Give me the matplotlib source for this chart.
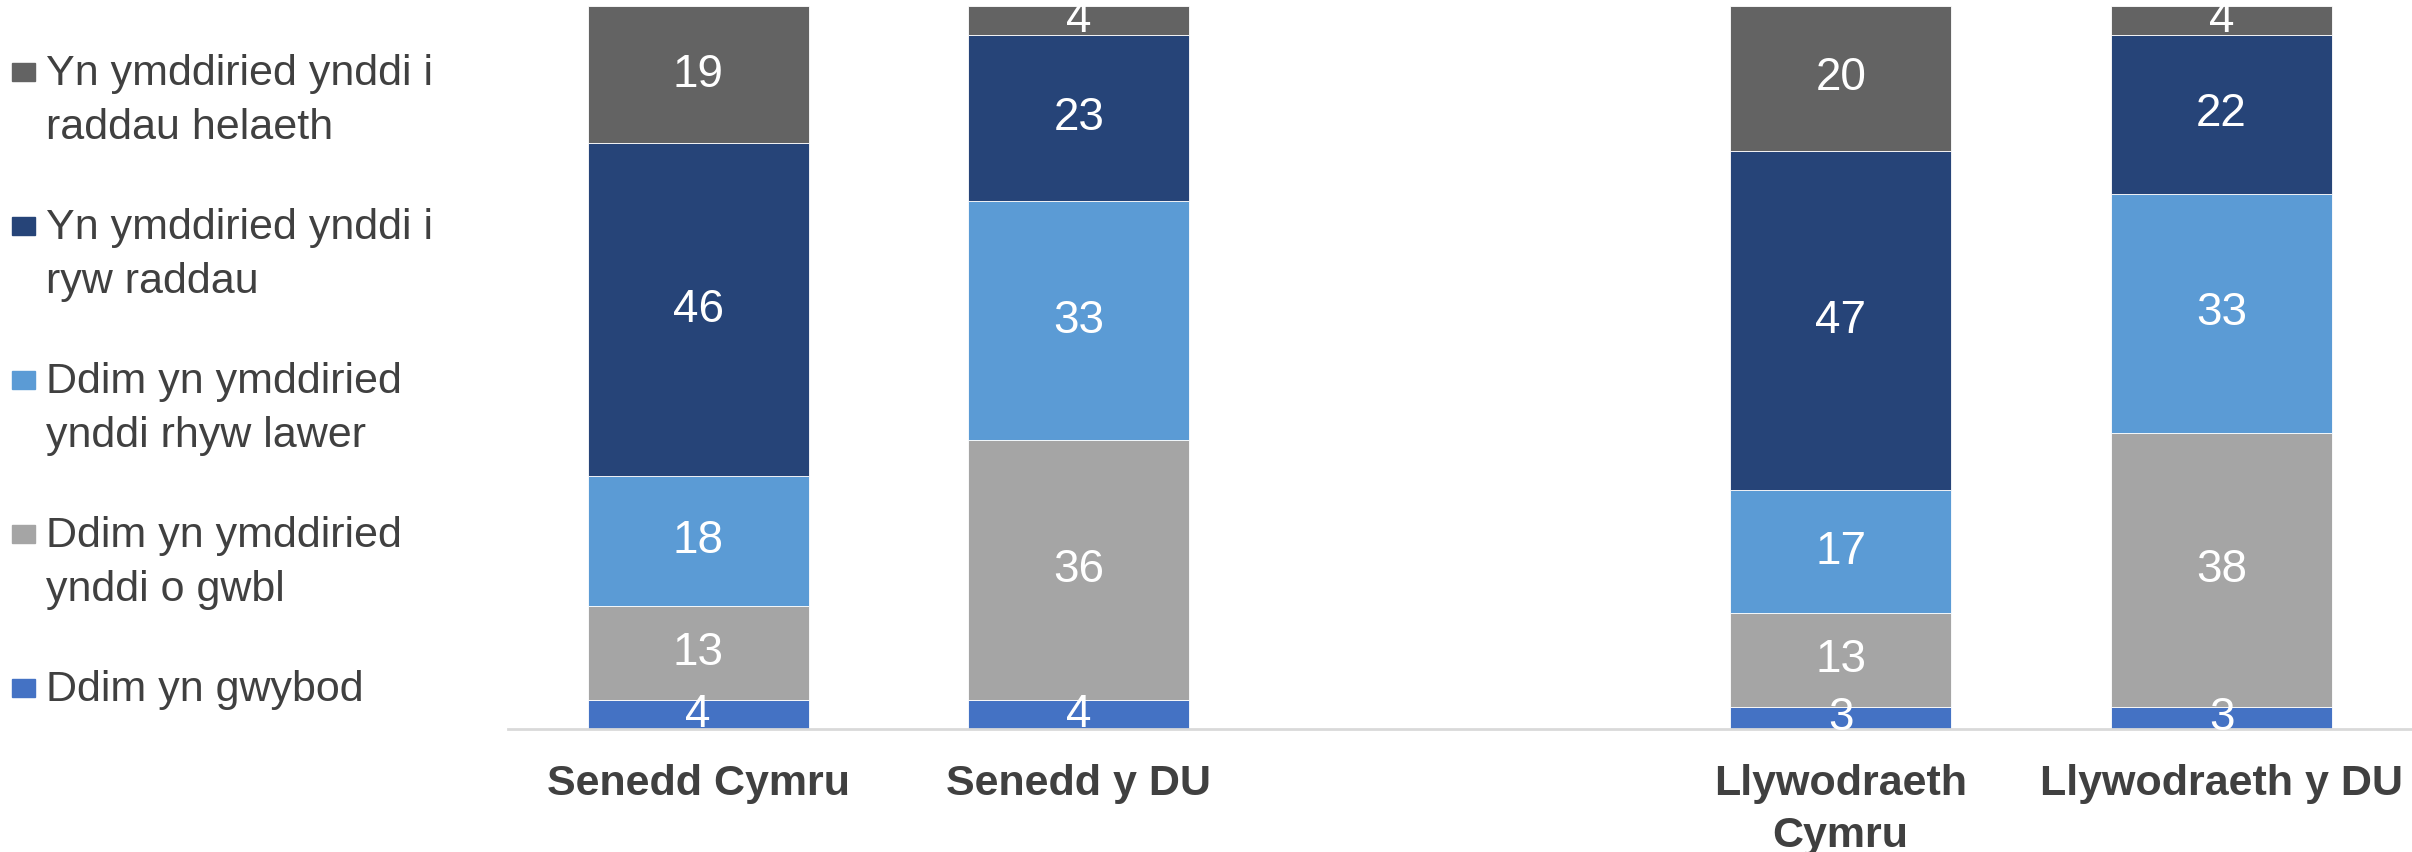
import matplotlib
matplotlib.use("Agg")
import matplotlib.pyplot as plt
from matplotlib.patches import Rectangle
import numpy as np

categories = ["Senedd Cymru", "Senedd y DU", "Llywodraeth\nCymru", "Llywodraeth y DU"]
positions = [0, 1, 3, 4]

series_names = [
    "Ddim yn gwybod",
    "Ddim yn ymddiried\nynddi o gwbl",
    "Ddim yn ymddiried\nynddi rhyw lawer",
    "Yn ymddiried ynddi i\nryw raddau",
    "Yn ymddiried ynddi i\nraddau helaeth",
]
dont_know = [4, 4, 3, 3]
not_at_all = [13, 36, 13, 38]
not_much = [18, 33, 17, 33]
some_extent = [46, 23, 47, 22]
great_extent = [19, 4, 20, 4]
series_values = [dont_know, not_at_all, not_much, some_extent, great_extent]
colors = ["#4472C4", "#A5A5A5", "#5B9BD5", "#264478", "#636363"]

plt.rcParams["font.family"] = ["Liberation Sans", "DejaVu Sans"]

fig = plt.figure(figsize=(24.12, 8.52), dpi=100)
ax = fig.add_axes([330 / 1568, 1 - 729 / 852, 1 - 330 / 1568, (729 - 6) / 852])

bottom = np.zeros(len(categories))
for name, vals, col in zip(series_names, series_values, colors):
    bars = ax.bar(positions, vals, width=0.58, bottom=bottom, color=col,
                  edgecolor="white", linewidth=0.6, label=name)
    ax.bar_label(bars, labels=[str(v) for v in vals], label_type="center",
                 color="white", fontsize=33)
    bottom += np.array(vals)

ax.set_xlim(-0.5, 4.5)
ax.set_ylim(0, 100)
ax.set_yticks([])
for s in ["left", "right", "top"]:
    ax.spines[s].set_visible(False)
ax.spines["bottom"].set_color("#D9D9D9")
ax.spines["bottom"].set_linewidth(2)
ax.set_xticks(positions)
ax.set_xticklabels(categories, fontsize=31, fontweight="bold", color="#404040",
                   linespacing=1.4)
ax.tick_params(axis="x", length=0, pad=25)

# legend drawn manually in figure pixels (top-down order)
W, H = 2412, 852
y0 = 72
step = 154
for i, idx in enumerate(range(len(series_names) - 1, -1, -1)):
    yc = y0 + i * step
    fig.patches.append(Rectangle((12 / W, 1 - (yc + 9) / H), 23 / W, 18 / H,
                                 transform=fig.transFigure, color=colors[idx]))
    fig.text(46 / W, 1 - (yc - 18) / H, series_names[idx], fontsize=31,
             color="#404040", va="top", ha="left", linespacing=1.44)

fig.savefig("out.png", dpi=100)
